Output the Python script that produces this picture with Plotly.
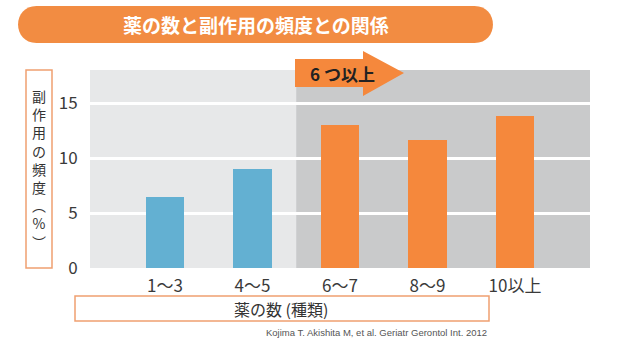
import plotly.graph_objects as go

# Data
categories = ["1〜3", "4〜5", "6〜7", "8〜9", "10以上"]
rates = [6.5, 9.0, 13.0, 11.6, 13.8]
bar_colors = ["#63b0d2", "#63b0d2", "#f5883c", "#f5883c", "#f5883c"]
y_ticks = [0, 5, 10, 15]

title_text = "薬の数と副作用の頻度との関係"
arrow_text = "6 つ以上"
y_label_chars = ["副", "作", "用", "の", "頻", "度", "︵", "%", "︶"]
x_label = "薬の数 (種類)"
source_text = "Kojima T. Akishita M, et al. Geriatr Gerontol Int. 2012"

W, H = 630, 348
ML, MR, MT, MB = 90, 40, 70, 80
PW, PH = W - ML - MR, H - MT - MB

FONT = "Noto Sans CJK JP"


def px(x):
    return (x - ML) / PW


def py(y):
    return (H - MB - y) / PH


xs = list(range(len(categories)))

fig = go.Figure(
    go.Bar(
        x=xs,
        y=rates,
        marker=dict(color=bar_colors, line=dict(width=0)),
        width=0.44,
        hoverinfo="skip",
    )
)

shapes = []
# darker band for 6 or more medicines
shapes.append(dict(type="rect", xref="x", yref="paper", x0=1.5, x1=4.86,
                   y0=0, y1=1, fillcolor="#c9cacb", line=dict(width=0),
                   layer="below"))

# title banner (pill shape)
bx0, bx1, by0, by1 = 18, 493, 6, 43
r = (by1 - by0) / 2
path = (f"M {px(bx0 + r)} {py(by0)} L {px(bx1 - r)} {py(by0)} "
        f"C {px(bx1 + r * 0.33)} {py(by0)} {px(bx1 + r * 0.33)} {py(by1)} {px(bx1 - r)} {py(by1)} "
        f"L {px(bx0 + r)} {py(by1)} "
        f"C {px(bx0 - r * 0.33)} {py(by1)} {px(bx0 - r * 0.33)} {py(by0)} {px(bx0 + r)} {py(by0)} Z")
shapes.append(dict(type="path", xref="paper", yref="paper", path=path,
                   fillcolor="#f28c42", line=dict(width=0)))

# arrow over the band
ax0, abx, atip = 295, 363, 404
ay_top, ay_bot, ahy_top, ahy_bot, ay_mid = 59, 87, 51, 96, 73
apath = (f"M {px(ax0)} {py(ay_top)} L {px(abx)} {py(ay_top)} L {px(abx)} {py(ahy_top)} "
         f"L {px(atip)} {py(ay_mid)} L {px(abx)} {py(ahy_bot)} L {px(abx)} {py(ay_bot)} "
         f"L {px(ax0)} {py(ay_bot)} Z")
shapes.append(dict(type="path", xref="paper", yref="paper", path=apath,
                   fillcolor="#f5883c", line=dict(width=0)))

# y-axis label box
shapes.append(dict(type="rect", xref="paper", yref="paper",
                   x0=px(26), x1=px(52), y0=py(70), y1=py(268),
                   line=dict(color="#f0a070", width=1.5), fillcolor="rgba(0,0,0,0)"))
# x-axis label box
shapes.append(dict(type="rect", xref="paper", yref="paper",
                   x0=px(75), x1=px(489), y0=py(296), y1=py(321),
                   line=dict(color="#f0a070", width=1.5), fillcolor="rgba(0,0,0,0)"))

annotations = [
    dict(text=title_text, x=px(255.5), y=py(24.5), xref="paper", yref="paper",
         showarrow=False, xanchor="center", yanchor="middle",
         font=dict(family=FONT, size=19, color="white", weight="bold")),
    dict(text=arrow_text, x=px(342), y=py(73), xref="paper", yref="paper",
         showarrow=False, xanchor="center", yanchor="middle",
         font=dict(family=FONT, size=17, color="#222222", weight="bold")),
    dict(text=x_label, x=px(281), y=py(309), xref="paper", yref="paper",
         showarrow=False, xanchor="center", yanchor="middle",
         font=dict(family=FONT, size=16, color="#333333")),
    dict(text=source_text, x=px(489), y=py(332), xref="paper", yref="paper",
         showarrow=False, xanchor="right", yanchor="middle",
         font=dict(family="Liberation Sans", size=9.5, color="#555555")),
    # vertical y-axis title, one glyph per line
    dict(text="<br>".join(y_label_chars), x=px(39), y=py(169), xref="paper", yref="paper",
         showarrow=False, xanchor="center", yanchor="middle", borderpad=0,
         font=dict(family=FONT, size=14, color="#333333")),
]

fig.update_layout(
    width=W, height=H,
    margin=dict(l=ML, r=MR, t=MT, b=MB),
    paper_bgcolor="white",
    plot_bgcolor="#e7e8e9",
    showlegend=False,
    shapes=shapes,
    annotations=annotations,
    bargap=0,
    xaxis=dict(
        range=[-0.857, 4.857],
        tickmode="array", tickvals=xs, ticktext=categories,
        showgrid=False, zeroline=False, showline=False,
        ticks="outside", ticklen=3, tickcolor="rgba(0,0,0,0)",
        tickfont=dict(family=FONT, size=17, color="#3a3a3a"),
        fixedrange=True,
    ),
    yaxis=dict(
        range=[0, 18],
        tickmode="array", tickvals=y_ticks,
        showgrid=True, gridcolor="white", gridwidth=3,
        zeroline=False, showline=False,
        ticks="outside", ticklen=8, tickcolor="rgba(0,0,0,0)",
        tickfont=dict(family=FONT, size=17, color="#3a3a3a"),
        fixedrange=True,
    ),
)

fig.write_html("out.html")
